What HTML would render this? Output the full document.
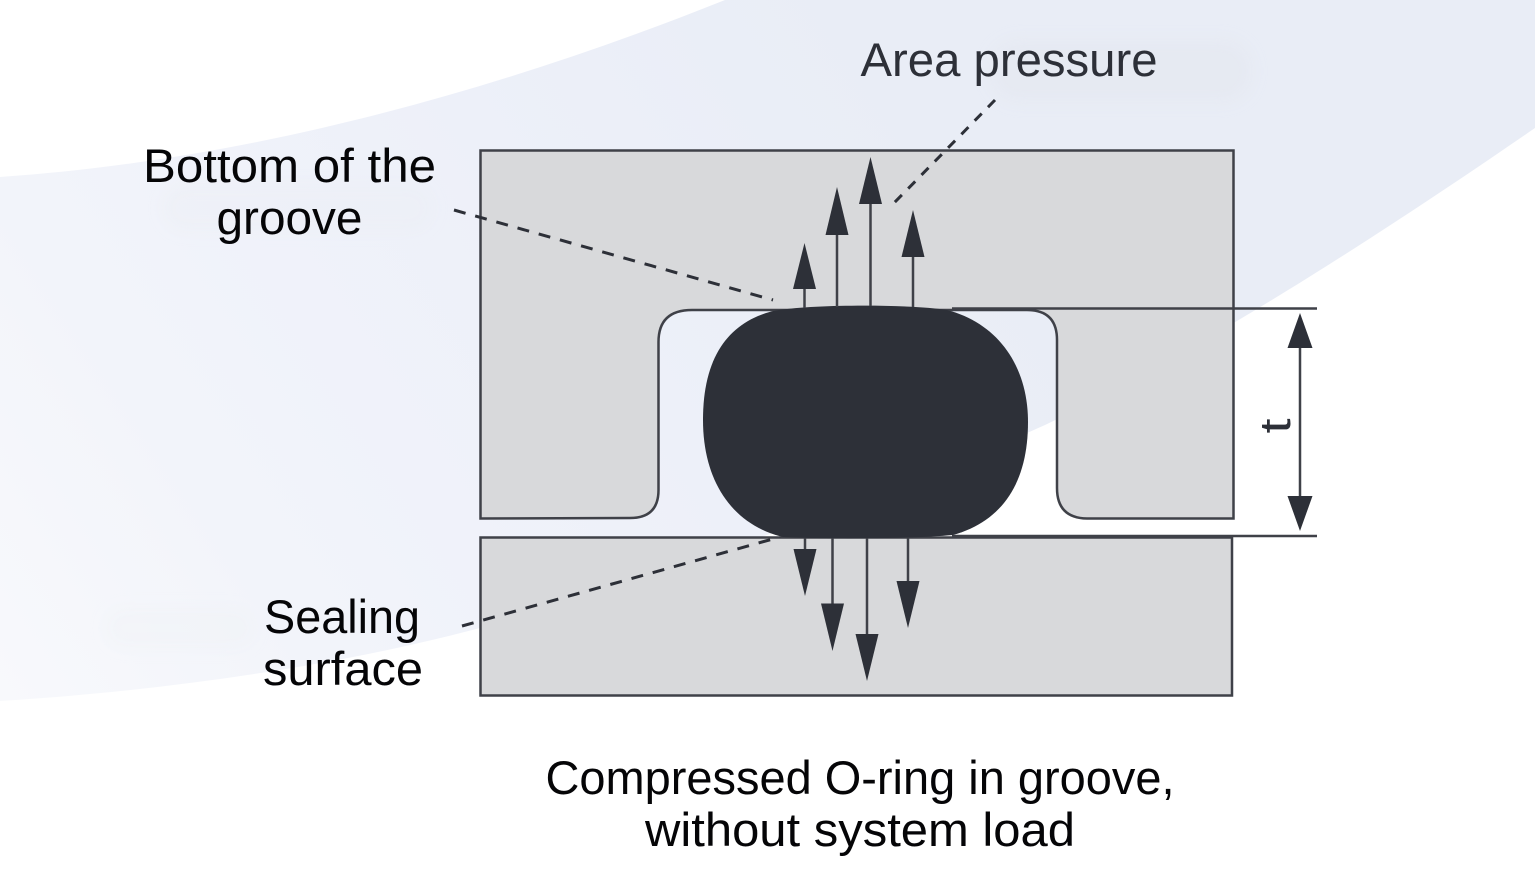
<!DOCTYPE html>
<html><head><meta charset="utf-8"><style>
html,body{margin:0;padding:0;background:#fff}
svg{display:block}
text{font-family:"Liberation Sans",sans-serif;fill:#050507;font-size:47px}
</style></head><body>
<svg width="1535" height="893" viewBox="0 0 1535 893" xmlns="http://www.w3.org/2000/svg">
<defs>
<linearGradient id="bg" gradientUnits="userSpaceOnUse" x1="0" y1="700" x2="900" y2="100">
<stop offset="0" stop-color="#f8f9fc"/><stop offset="0.27" stop-color="#f2f4fa"/><stop offset="0.66" stop-color="#edf0f9"/><stop offset="1" stop-color="#e9edf6"/>
</linearGradient>
<filter id="soft" x="-20%" y="-40%" width="140%" height="180%"><feGaussianBlur stdDeviation="7"/></filter>
</defs>
<rect width="1535" height="893" fill="#fff"/>
<path d="M0 177 C250 160 500 90 725 0 L1535 0 L1535 128 C1300 290 1150 375 1045 425 C900 490 680 570 480 628 C330 668 150 692 0 701 Z" fill="url(#bg)"/>
<!-- faint patches -->
<g filter="url(#soft)">
<rect x="163" y="185" width="270" height="46" rx="23" fill="#eceef3" opacity="0.35"/>
<rect x="990" y="40" width="262" height="62" rx="30" fill="#e5e8f0" opacity="0.6"/>
<rect x="105" y="608" width="150" height="40" rx="20" fill="#f0f1f4" opacity="0.3"/>
</g>

<!-- blocks -->
<path d="M480.500 150.500 H1233.500 V518.500 H1087 Q1057 518 1057 488 V340 Q1057 310 1027 310 H692 Q658.500 310 658.500 342 V490 Q658.500 518 630 518 L480.500 518.500 Z" fill="#d8d9db" stroke="#3f4148" stroke-width="2.500"/>
<rect x="480.500" y="537.500" width="751.500" height="158" fill="#d8d9db" stroke="#3f4148" stroke-width="2.500"/>

<!-- dimension lines -->
<line x1="952" y1="308.500" x2="1317" y2="308.500" stroke="#3f4148" stroke-width="2.500"/>
<line x1="952" y1="536" x2="1317" y2="536" stroke="#3f4148" stroke-width="2.500"/>

<!-- O-ring -->
<path d="M773 311 C810 304 910 304 947 310 C997 323 1028 365 1028 422 C1028 482 1003 521 953 535 C910 539 820 539 783 537 C733 525 703 482 703 420 C703 355 730 322 773 311 Z" fill="#2d3038"/>

<!-- arrows -->
<g stroke="#3f4148" stroke-width="2.500">
<line x1="804.500" y1="285" x2="804.500" y2="308"/>
<line x1="837" y1="233" x2="837" y2="307"/>
<line x1="870.500" y1="202" x2="870.500" y2="306"/>
<line x1="913" y1="256" x2="913" y2="307"/>
<line x1="1300" y1="345" x2="1300" y2="500"/>
<line x1="805" y1="538" x2="805" y2="552"/>
<line x1="832.500" y1="538" x2="832.500" y2="606"/>
<line x1="867" y1="538" x2="867" y2="637"/>
<line x1="908" y1="538" x2="908" y2="583"/>
</g>
<g fill="#2d3038">
<polygon points="804.500,243 793,289 816,289"/>
<polygon points="837,187 825.500,235 848.500,235"/>
<polygon points="870.500,157 859,204 882,204"/>
<polygon points="913,210 901.500,257 924.500,257"/>
<polygon points="1300,313 1287.500,348 1312.500,348"/>
<polygon points="1300,531 1287.500,496 1312.500,496"/>
<polygon points="805,596 793.500,549 816.500,549"/>
<polygon points="832.500,651 821,603.500 844,603.500"/>
<polygon points="867,681 855.500,634 878.500,634"/>
<polygon points="908,628 896.500,581 919.500,581"/>
</g>

<!-- dashed leaders -->
<g stroke="#2d3038" stroke-width="3" fill="none">
<line x1="454" y1="210" x2="773" y2="300" stroke-dasharray="12 10"/>
<line x1="462" y1="626" x2="780" y2="537" stroke-dasharray="12 10"/>
<line x1="995" y1="100" x2="894" y2="203" stroke-dasharray="10 9"/>
</g>

<!-- labels -->
<text x="1009" y="76" text-anchor="middle" textLength="297" lengthAdjust="spacingAndGlyphs" style="fill:#2d3038">Area pressure</text>
<text x="289.500" y="182" text-anchor="middle" textLength="293" lengthAdjust="spacingAndGlyphs">Bottom of the</text>
<text x="289.500" y="234" text-anchor="middle" textLength="146" lengthAdjust="spacingAndGlyphs">groove</text>
<text x="342" y="633" text-anchor="middle" textLength="156" lengthAdjust="spacingAndGlyphs">Sealing</text>
<text x="343" y="685" text-anchor="middle" textLength="160" lengthAdjust="spacingAndGlyphs">surface</text>
<text x="860" y="794" text-anchor="middle" textLength="629" lengthAdjust="spacingAndGlyphs">Compressed O-ring in groove,</text>
<text x="860" y="846" text-anchor="middle" textLength="430" lengthAdjust="spacingAndGlyphs">without system load</text>
<text transform="translate(1290 426) rotate(-90)" text-anchor="middle" style="font-size:44px;fill:#2d3038" textLength="15" lengthAdjust="spacingAndGlyphs">t</text>
</svg>
</body></html>
